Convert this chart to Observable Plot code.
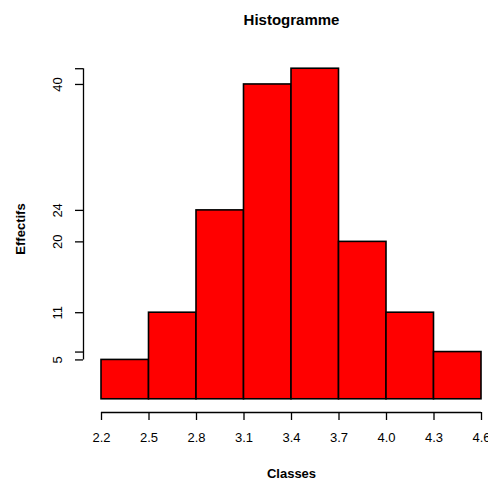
<!DOCTYPE html>
<html>
<head>
<meta charset="utf-8">
<script src="https://cdn.jsdelivr.net/npm/d3@7"></script>
<script src="https://cdn.jsdelivr.net/npm/@observablehq/plot@0.6"></script>
<style>
  html, body { margin: 0; padding: 0; background: #fff; }
  svg { font-family: "Liberation Sans", Arial, sans-serif; }
</style>
</head>
<body>
<div id="chart"></div>
<script>
const binStarts = [2.2, 2.5, 2.8, 3.1, 3.4, 3.7, 4.0, 4.3];
const binEnds   = [2.5, 2.8, 3.1, 3.4, 3.7, 4.0, 4.3, 4.6];
const counts    = [5, 11, 24, 40, 42, 20, 11, 6];
const xTicks = [2.2, 2.5, 2.8, 3.1, 3.4, 3.7, 4.0, 4.3, 4.6];
const xTickLabels = ["2.2", "2.5", "2.8", "3.1", "3.4", "3.7", "4.0", "4.3", "4.6"];
const yTicks = [5, 6, 11, 20, 24, 40, 42];
const yTickLabels = [5, 11, 20, 24, 40];
const title = "Histogramme";
const xLabel = "Classes";
const yLabel = "Effectifs";

const bins = binStarts.map((s, i) => ({x1: s, x2: binEnds[i], y: counts[i]}));
const yMax = d3.max(counts);
const yPad = yMax * 0.04;
const xMin = 2.2 - 0.1137;
const xMid = (xTicks[0] + xTicks[xTicks.length - 1]) / 2;

const chart = Plot.plot({
  width: 488,
  height: 482,
  marginTop: 55,
  marginBottom: 70,
  marginLeft: 83,
  marginRight: 7,
  style: {fontFamily: '"Liberation Sans", Arial, sans-serif', background: "#fff"},
  x: {type: "linear", domain: [xMin, 4.6], axis: null},
  y: {type: "linear", domain: [-yPad, yMax + yPad], axis: null},
  marks: [
    Plot.rectY(bins, {x1: "x1", x2: "x2", y1: () => 0, y2: "y", fill: "#ff0000", stroke: "#000", strokeWidth: 1.6}),
    // y axis
    Plot.ruleX([xMin], {x: d => d, y1: () => d3.min(yTicks), y2: () => d3.max(yTicks), stroke: "#000", strokeWidth: 1.3}),
    Plot.axisY(yTicks, {anchor: "left", tickSize: 8, text: null, label: null, stroke: "#000", strokeWidth: 1.3}),
    Plot.text(yTickLabels, {x: () => xMin, y: d => d, text: d => String(d), rotate: -90, dx: -26, fontSize: 13, fill: "#000"}),
    // x axis
    Plot.ruleY([-yPad], {y: d => d, x1: () => xTicks[0], x2: () => xTicks[xTicks.length - 1], stroke: "#000", strokeWidth: 1.3}),
    Plot.axisX(xTicks, {anchor: "bottom", tickSize: 8, text: null, label: null, stroke: "#000", strokeWidth: 1.3}),
    Plot.text(xTicks, {x: d => d, y: () => -yPad, text: (d, i) => xTickLabels[i], dy: 25.5, fontSize: 13, fill: "#000"}),
    // titles
    Plot.text([title], {x: () => xMid, frameAnchor: "top", lineAnchor: "middle", dy: -35, fontSize: 15, fontWeight: "bold", letterSpacing: 1, fill: "#000"}),
    Plot.text([xLabel], {x: () => xMid, frameAnchor: "bottom", lineAnchor: "middle", dy: 61, fontSize: 13, fontWeight: "bold", fill: "#000"}),
    Plot.text([yLabel], {frameAnchor: "left", textAnchor: "middle", dx: -63, dy: -5, rotate: -90, fontSize: 13, fontWeight: "bold", fill: "#000"})
  ]
});
document.getElementById("chart").appendChild(chart);
</script>
</body>
</html>
